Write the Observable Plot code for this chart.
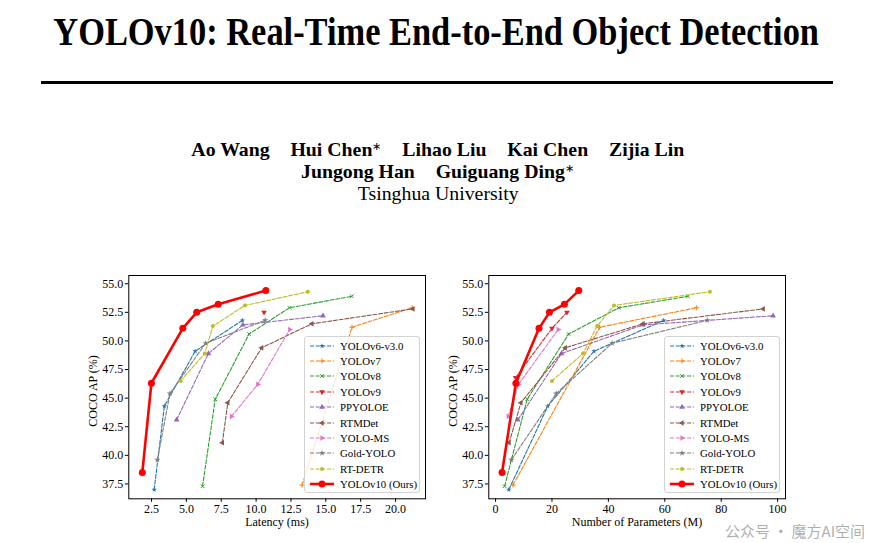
<!DOCTYPE html>
<html>
<head>
<meta charset="utf-8">
<script src="https://cdn.jsdelivr.net/npm/d3@7"></script>
<script src="https://cdn.jsdelivr.net/npm/@observablehq/plot@0.6"></script>
<style>
  html, body { margin: 0; padding: 0; background: #fff; }
  #page { position: relative; width: 880px; height: 543px; overflow: hidden; background: #fff; font-family: "Liberation Serif", serif; color: #000; }
  .abs { position: absolute; }
  .title { left: -9px; width: 880px; top: 12px; text-align: center; font-weight: bold; font-size: 40px; line-height: 40px; white-space: nowrap; }
  .title span { display: inline-block; transform: scaleX(0.86); transform-origin: center; }
  .rule { left: 41px; top: 81px; width: 792px; height: 2.5px; background: #000; }
  .authors { left: -2px; width: 880px; height: 19.5px; text-align: center; font-size: 19.5px; line-height: 19.5px; white-space: nowrap; }
  .authors > span { display: inline-block; transform: scaleX(1.015); transform-origin: center; line-height: 19.5px; }
  .authors b { font-weight: bold; }
  .authors .gap { display: inline-block; width: 20.5px; }
  sup { font-size: 11px; font-weight: normal; vertical-align: 6px; line-height: 0; }
  .axlabel { font-size: 12px; white-space: nowrap; }
  .legend { position: absolute; border: 1px solid #d3d3d3; border-radius: 3px; background: rgba(255,255,255,0.8); box-sizing: border-box; padding: 1px 0 0 4px; }
  .legend .row { height: 15.4px; display: flex; align-items: center; font-size: 10.8px; white-space: nowrap; }
  .legend svg { flex: none; margin-right: 5px; }
  .wm { font-family: "Noto Sans CJK SC", sans-serif; font-size: 15px; color: rgba(120,120,120,0.6); white-space: nowrap; }
</style>
</head>
<body>
<div id="page">
  <div class="abs title"><span>YOLOv10: Real-Time End-to-End Object Detection</span></div>
  <div class="abs rule"></div>
  <div class="abs authors" style="top:140.4px"><span><b>Ao Wang</b><span class="gap"></span><b>Hui Chen<sup>∗</sup></b><span class="gap"></span><b>Lihao Liu</b><span class="gap"></span><b>Kai Chen</b><span class="gap"></span><b>Zijia Lin</b></span></div>
  <div class="abs authors" style="top:162.2px"><span><b>Jungong Han</b><span class="gap"></span><b>Guiguang Ding<sup>∗</sup></b></span></div>
  <div class="abs authors" style="top:184px"><span>Tsinghua University</span></div>
  <div id="left" class="abs" style="left:80px; top:268px;"></div>
  <div id="right" class="abs" style="left:440px; top:268px;"></div>
</div>
<script>
// ---------------- data ----------------
const seriesNames = ["YOLOv6-v3.0", "YOLOv7", "YOLOv8", "YOLOv9", "PPYOLOE", "RTMDet", "YOLO-MS", "Gold-YOLO", "RT-DETR", "YOLOv10 (Ours)"];
const seriesColors = ["#1f77b4", "#ff7f0e", "#2ca02c", "#d62728", "#9467bd", "#8c564b", "#e377c2", "#7f7f7f", "#bcbd22", "#ff0000"];

const apYOLOv6 = [37.0, 44.3, 49.1, 51.8];
const latYOLOv6 = [2.69, 3.42, 5.63, 9.02];
const parYOLOv6 = [4.7, 18.5, 34.9, 59.6];

const apYOLOv7 = [37.4, 51.2, 52.9];
const latYOLOv7 = [13.3, 16.88, 21.2];
const parYOLOv7 = [6.2, 36.9, 71.3];

const apYOLOv8 = [37.3, 44.9, 50.6, 52.9, 53.9];
const latYOLOv8 = [6.16, 7.07, 9.50, 12.39, 16.86];
const parYOLOv8 = [3.2, 11.2, 25.9, 43.7, 68.2];

const apYOLOv9 = [46.8, 51.1, 52.5];
const latYOLOv9 = [null, null, 10.57];
const parYOLOv9 = [7.1, 20.0, 25.3];

const apPPYOLOE = [43.1, 48.9, 51.4, 52.2];
const latPPYOLOE = [4.30, 6.58, 9.05, 14.8];
const parPPYOLOE = [7.9, 23.4, 52.2, 98.4];

const apRTMDet = [41.1, 44.6, 49.4, 51.5, 52.8];
const latRTMDet = [7.58, 7.97, 10.4, 14.0, 21.25];
const parRTMDet = [4.8, 9.0, 24.7, 52.3, 94.9];

const apYOLOMS = [43.4, 46.2, 51.0];
const latYOLOMS = [8.23, 10.12, 12.41];
const parYOLOMS = [4.5, 8.1, 22.2];

const apGoldYOLO = [39.6, 45.4, 49.8, 51.8];
const latGoldYOLO = [2.92, 3.82, 6.38, 10.65];
const parGoldYOLO = [5.6, 21.5, 41.3, 75.1];

const apRTDETR = [46.5, 48.9, 51.3, 53.1, 54.3];
const latRTDETR = [4.58, 6.32, 6.90, 9.20, 13.71];
const parRTDETR = [20, 31, 36, 42, 76];

const apYOLOv10 = [38.5, 46.3, 51.1, 52.5, 53.2, 54.4];
const latYOLOv10 = [1.84, 2.49, 4.74, 5.74, 7.28, 10.70];
const parYOLOv10 = [2.3, 7.2, 15.4, 19.1, 24.4, 29.5];

const yTicks = [37.5, 40.0, 42.5, 45.0, 47.5, 50.0, 52.5, 55.0];
const latTicks = [2.5, 5.0, 7.5, 10.0, 12.5, 15.0, 17.5, 20.0];
const parTicks = [0, 20, 40, 60, 80, 100];

// ---------------- build ----------------
const markerStyle = [
  {symbol: "star", rotate: 0, r: 1.7, filled: true},
  {symbol: "plus", rotate: 0, r: 1.8, filled: false},
  {symbol: "times", rotate: 0, r: 1.8, filled: false},
  {symbol: "triangle", rotate: 180, r: 2.1, filled: true},
  {symbol: "triangle", rotate: 0, r: 2.1, filled: true},
  {symbol: "triangle", rotate: -90, r: 2.1, filled: true},
  {symbol: "triangle", rotate: 90, r: 2.1, filled: true},
  {symbol: "star", rotate: 0, r: 2.0, filled: true},
  {symbol: "circle", rotate: 0, r: 2.0, filled: true},
  {symbol: "circle", rotate: 0, r: 3.5, filled: true}
];
const apArr = [apYOLOv6, apYOLOv7, apYOLOv8, apYOLOv9, apPPYOLOE, apRTMDet, apYOLOMS, apGoldYOLO, apRTDETR, apYOLOv10];
const latArr = [latYOLOv6, latYOLOv7, latYOLOv8, latYOLOv9, latPPYOLOE, latRTMDet, latYOLOMS, latGoldYOLO, latRTDETR, latYOLOv10];
const parArr = [parYOLOv6, parYOLOv7, parYOLOv8, parYOLOv9, parPPYOLOE, parRTMDet, parYOLOMS, parGoldYOLO, parRTDETR, parYOLOv10];

const series = seriesNames.map((name, i) => ({
  name, color: seriesColors[i], ...markerStyle[i], ours: i === seriesNames.length - 1,
  rows: apArr[i].map((ap, j) => ({ap, lat: latArr[i][j], par: parArr[i][j]}))
}));

function seriesMarks(xKey) {
  const marks = [];
  for (const s of series) {
    const rows = s.rows.filter(d => d[xKey] != null);
    marks.push(Plot.line(rows, {
      x: xKey, y: "ap", stroke: s.color,
      strokeWidth: s.ours ? 2.6 : 1.1,
      strokeDasharray: s.ours ? null : "4,1.7",
      strokeLinejoin: "round"
    }));
    marks.push(Plot.dot(rows, {
      x: xKey, y: "ap", symbol: s.symbol, r: s.r, rotate: s.rotate,
      fill: s.filled ? s.color : "none", stroke: s.filled ? "none" : s.color,
      strokeWidth: 1
    }));
  }
  return marks;
}

function makePlot(xKey, xDomain, xTicks, xFmt) {
  return Plot.plot({
    width: 350, height: 272,
    marginLeft: 48.3, marginRight: 5, marginTop: 7, marginBottom: 41.7,
    style: {fontFamily: "'Liberation Serif', serif", fontSize: "12px", color: "#000", background: "transparent", overflow: "visible"},
    x: {domain: xDomain, ticks: xTicks, tickFormat: xFmt, label: null, tickSize: 3.5, tickPadding: 2},
    y: {domain: [36.2, 55.72], ticks: yTicks, tickFormat: d => d.toFixed(1), label: null, tickSize: 3.5, tickPadding: 2},
    marks: [
      ...seriesMarks(xKey),
      Plot.frame({stroke: "#000", strokeWidth: 1})
    ]
  });
}

function makeLegend(left, top) {
  const div = document.createElement("div");
  div.className = "legend";
  div.style.left = left + "px";
  div.style.top = top + "px";
  div.style.width = "116px";
  div.style.height = "157px";
  const symMap = {star: d3.symbolStar, plus: d3.symbolPlus, times: d3.symbolTimes, triangle: d3.symbolTriangle, circle: d3.symbolCircle};
  for (const s of series) {
    const row = document.createElement("div");
    row.className = "row";
    const svg = d3.create("svg").attr("width", 26).attr("height", 12);
    svg.append("line").attr("x1", 1).attr("x2", 25).attr("y1", 6).attr("y2", 6)
      .attr("stroke", s.color).attr("stroke-width", s.ours ? 2.6 : 1.1)
      .attr("stroke-dasharray", s.ours ? null : "4,1.7");
    svg.append("path").attr("d", d3.symbol(symMap[s.symbol], Math.PI * s.r * s.r)())
      .attr("transform", `translate(13,6) rotate(${s.rotate})`)
      .attr("fill", s.filled ? s.color : "none").attr("stroke", s.filled ? "none" : s.color).attr("stroke-width", 1);
    row.appendChild(svg.node());
    const t = document.createElement("span");
    t.textContent = s.name;
    row.appendChild(t);
    div.appendChild(row);
  }
  document.getElementById("page").appendChild(div);
}

function addText(cls, text, cx, cy, rotate) {
  const el = document.createElement("div");
  el.className = "abs " + cls;
  el.textContent = text;
  el.style.left = cx + "px";
  el.style.top = cy + "px";
  el.style.transform = `translate(-50%,-50%)` + (rotate ? ` rotate(${rotate}deg)` : "");
  document.getElementById("page").appendChild(el);
}

document.getElementById("left").appendChild(makePlot("lat", [0.87, 22.15], latTicks, d => d.toFixed(1)));
document.getElementById("right").appendChild(makePlot("par", [-2.4, 102.8], parTicks, d => String(d)));

makeLegend(304, 336);
makeLegend(664, 336);

addText("axlabel", "Latency (ms)", 277, 522);
addText("axlabel", "Number of Parameters (M)", 637, 522);
addText("axlabel", "COCO AP (%)", 92.5, 391, -90);
addText("axlabel", "COCO AP (%)", 452.5, 391, -90);

// watermark from the screenshot, kept clear of the axis texts
addText("wm", "公众号 · 魔方AI空间", 795, 530);
</script>
</body>
</html>
